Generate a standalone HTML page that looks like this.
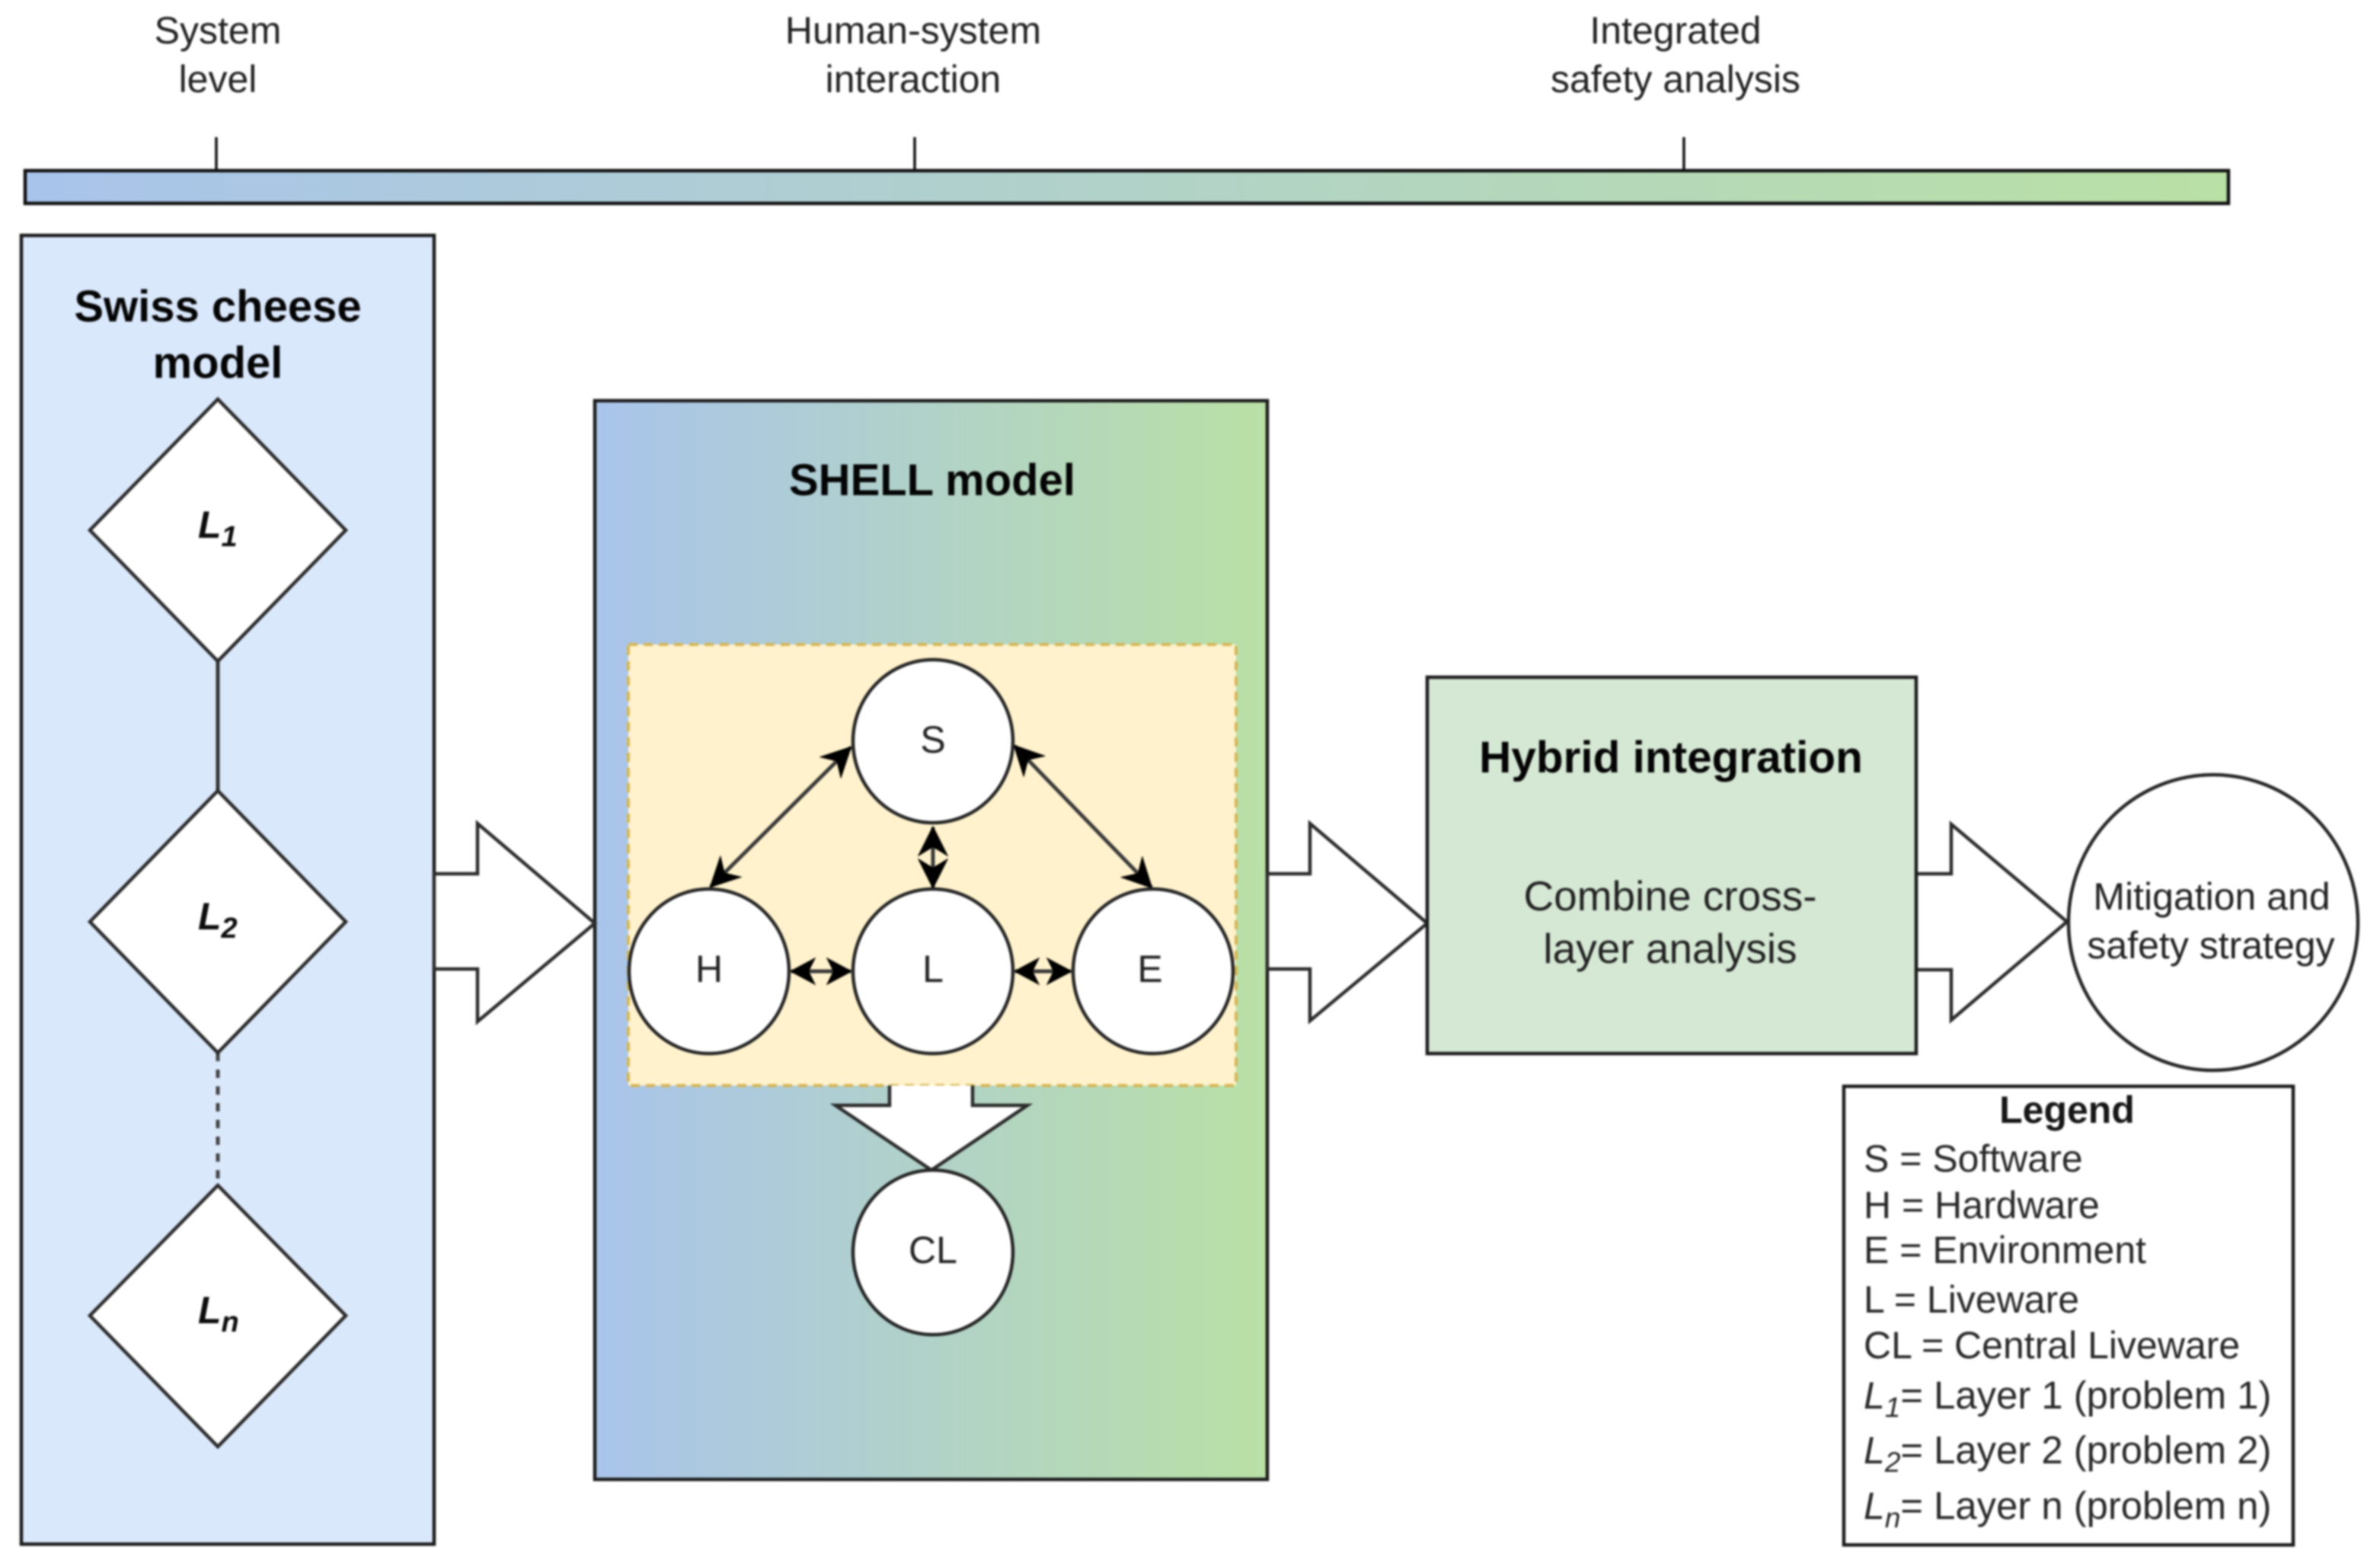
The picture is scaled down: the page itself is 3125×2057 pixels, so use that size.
<!DOCTYPE html>
<html><head><meta charset="utf-8">
<style>
html,body{margin:0;padding:0;background:#fff;width:3125px;height:2057px;overflow:hidden}
svg{display:block;filter:blur(1.2px)}
text{font-family:"Liberation Sans",Arial,sans-serif;font-size:50px;fill:#222;text-anchor:middle}
.b{font-weight:bold;font-size:58px;fill:#050505}
.l{text-anchor:start;fill:#282828}
.i{font-style:italic}
.s{font-style:italic;font-size:37px}
.d{font-weight:bold;font-style:italic;text-anchor:start;fill:#0c0c0c}
.sb{font-size:38px}
</style></head><body>
<svg width="3125" height="2057" viewBox="0 0 3125 2057" xmlns="http://www.w3.org/2000/svg">
<defs>
<linearGradient id="g" x1="0" x2="1" y1="0" y2="0"><stop offset="0" stop-color="#a9c4eb"/><stop offset="1" stop-color="#b9e0a5"/></linearGradient>
<marker id="a" markerUnits="userSpaceOnUse" markerWidth="40" markerHeight="40" viewBox="-38 -20 40 40" refX="0" refY="0" orient="auto-start-reverse"><path d="M0,0 L-36,-18 L-25,0 L-36,18Z" fill="#000" stroke="#000" stroke-width="2"/></marker>
<marker id="h" markerUnits="userSpaceOnUse" markerWidth="40" markerHeight="40" viewBox="-38 -20 40 40" refX="0" refY="0" orient="auto-start-reverse"><path d="M0,0 L-30,-16 L-22,0 L-30,16Z" fill="#000" stroke="#000" stroke-width="2"/></marker>
</defs>
<rect width="3125" height="2057" fill="#fff"/>

<text x="286" y="57">System</text><text x="286" y="121">level</text>
<text x="1199" y="57">Human-system</text><text x="1199" y="121">interaction</text>
<text x="2200" y="57">Integrated</text><text x="2200" y="121">safety analysis</text>

<g stroke="#111" stroke-width="3.5" fill="none">
<line x1="284" y1="180" x2="284" y2="224"/><line x1="1201" y1="180" x2="1201" y2="224"/><line x1="2211" y1="180" x2="2211" y2="224"/>
</g>
<rect x="33" y="224" width="2893" height="43" fill="url(#g)" stroke="#111" stroke-width="4.5"/>

<rect x="28" y="309" width="542" height="1718" fill="#dae8fc" stroke="#1c1c1c" stroke-width="4.5"/>
<text class="b" x="286" y="422">Swiss cheese</text><text class="b" x="286" y="496">model</text>
<line x1="286" y1="869" x2="286" y2="1038" stroke="#333" stroke-width="5"/>
<line x1="286" y1="1382" x2="286" y2="1556" stroke="#444" stroke-width="5" stroke-dasharray="11 11"/>
<g fill="#fff" stroke="#2c2c2c" stroke-width="4.5">
<polygon points="286,524 454,696 286,868 118,696"/>
<polygon points="286,1038 454,1210 286,1382 118,1210"/>
<polygon points="286,1556 454,1727 286,1899 118,1727"/>
</g>
<text class="d" x="260" y="706">L<tspan class="sb" dy="11">1</tspan></text>
<text class="d" x="260" y="1220">L<tspan class="sb" dy="11">2</tspan></text>
<text class="d" x="260" y="1737">L<tspan class="sb" dy="11">n</tspan></text>

<rect x="781" y="526" width="883" height="1416" fill="url(#g)" stroke="#1c1c1c" stroke-width="4.5"/>
<text class="b" x="1224" y="650">SHELL model</text>
<rect x="825" y="846" width="798" height="579" fill="#fff2cc" stroke="#d6b656" stroke-width="4" stroke-dasharray="12 8"/>

<polygon points="1168,1425 1168,1451 1097,1451 1223,1536 1349,1451 1277,1451 1277,1425" fill="#fff"/>
<polyline points="1168,1425 1168,1451 1097,1451 1223,1536 1349,1451 1277,1451 1277,1425" fill="none" stroke="#2c2c2c" stroke-width="4.5"/>

<g stroke="#3a3a3a" stroke-width="5" fill="none">
<line x1="1117" y1="981" x2="933" y2="1164" marker-start="url(#a)" marker-end="url(#a)"/>
<line x1="1332" y1="979" x2="1512" y2="1165" marker-start="url(#a)" marker-end="url(#a)"/>
<line x1="1225" y1="1086" x2="1225" y2="1165" marker-start="url(#a)" marker-end="url(#a)"/>
<line x1="1039" y1="1275" x2="1117" y2="1275" marker-start="url(#h)" marker-end="url(#h)"/>
<line x1="1333" y1="1275" x2="1406" y2="1275" marker-start="url(#h)" marker-end="url(#h)"/>
</g>
<g fill="#fff" stroke="#262626" stroke-width="4.5">
<ellipse cx="1225" cy="973" rx="105" ry="107"/>
<ellipse cx="931" cy="1275" rx="105" ry="108"/>
<ellipse cx="1225" cy="1275" rx="105" ry="108"/>
<ellipse cx="1514" cy="1275" rx="105" ry="108"/>
<ellipse cx="1225" cy="1644" rx="105" ry="108"/>
</g>
<text x="1225" y="988">S</text><text x="931" y="1289">H</text><text x="1225" y="1289">L</text><text x="1510" y="1289">E</text><text x="1225" y="1658">CL</text>

<g fill="#fff" stroke="#2c2c2c" stroke-width="4.5" stroke-linejoin="miter">
<polygon points="570,1147 627,1147 627,1081 781,1212 627,1341 627,1272 570,1272"/>
<polygon points="1664,1147 1720,1147 1720,1081 1874,1212 1720,1340 1720,1272 1664,1272"/>
<polygon points="2516,1147 2562,1147 2562,1082 2714,1210 2562,1339 2562,1273 2516,1273"/>
</g>

<rect x="1874" y="889" width="642" height="494" fill="#d5e8d4" stroke="#1c1c1c" stroke-width="4.5"/>
<text class="b" x="2194" y="1014" style="font-size:58.5px">Hybrid integration</text>
<text x="2193" y="1195" style="font-size:55px">Combine cross-</text><text x="2193" y="1264" style="font-size:55px">layer analysis</text>

<ellipse cx="2906" cy="1211" rx="190" ry="194" fill="#fff" stroke="#262626" stroke-width="4.5"/>
<text x="2904" y="1194">Mitigation and</text><text x="2903" y="1258">safety strategy</text>

<rect x="2421" y="1426" width="590" height="602" fill="#fff" stroke="#1c1c1c" stroke-width="4.5"/>
<text x="2714" y="1474" style="font-weight:bold;font-size:50px;fill:#161616">Legend</text>
<text class="l" x="2447" y="1538">S = Software</text>
<text class="l" x="2447" y="1599">H = Hardware</text>
<text class="l" x="2447" y="1658">E = Environment</text>
<text class="l" x="2447" y="1723">L = Liveware</text>
<text class="l" x="2447" y="1783">CL = Central Liveware</text>
<text class="l" x="2447" y="1849"><tspan class="i">L</tspan><tspan class="s" dy="11">1</tspan><tspan dy="-11" style="font-size:50.8px">= Layer 1 (problem 1)</tspan></text>
<text class="l" x="2447" y="1921"><tspan class="i">L</tspan><tspan class="s" dy="11">2</tspan><tspan dy="-11" style="font-size:50.8px">= Layer 2 (problem 2)</tspan></text>
<text class="l" x="2447" y="1994"><tspan class="i">L</tspan><tspan class="s" dy="11">n</tspan><tspan dy="-11" style="font-size:50.8px">= Layer n (problem n)</tspan></text>
</svg>
</body></html>
